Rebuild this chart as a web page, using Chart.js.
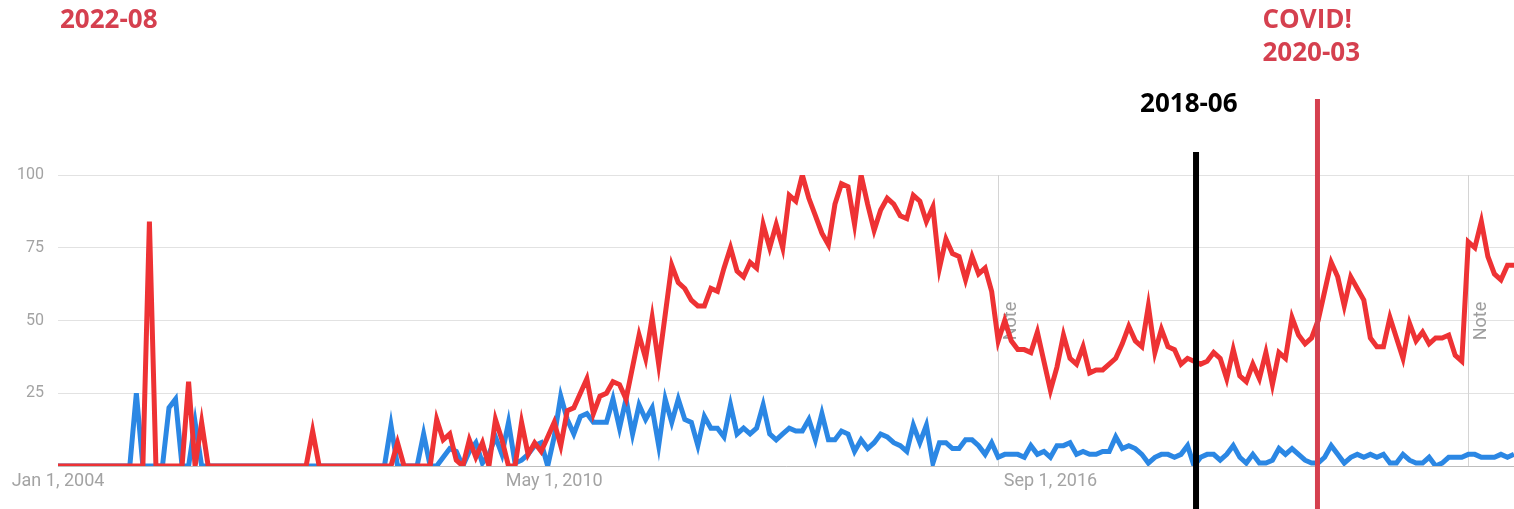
<!DOCTYPE html>
<html>
<head>
<meta charset="utf-8">
<script src="https://cdn.jsdelivr.net/npm/chart.js@4.4.1/dist/chart.umd.min.js"></script>
<style>
  html, body { margin: 0; padding: 0; background: #fff; }
  #wrap { width: 1514px; height: 509px; }
</style>
</head>
<body>
<div id="wrap"><canvas id="trendChart" width="1514" height="509"></canvas></div>
<script>
// monthly categories, Jan 2004 .. Aug 2022
const months = [];
for (let y = 2004; y <= 2022; y++) {
    for (let m = 1; m <= 12; m++) {
        if (y === 2022 && m > 8) break;
        months.push(y + '-' + String(m).padStart(2, '0'));
    }
}

// red term (one row per year)
const redSeries = [
    0, 0, 0, 0, 0, 0, 0, 0, 0, 0, 0, 0,
    0, 0, 84, 0, 0, 0, 0, 0, 29, 0, 15, 0,
    0, 0, 0, 0, 0, 0, 0, 0, 0, 0, 0, 0,
    0, 0, 0, 12, 0, 0, 0, 0, 0, 0, 0, 0,
    0, 0, 0, 0, 8, 0, 0, 0, 0, 0, 16, 9,
    11, 2, 0, 9, 3, 8, 0, 16, 9, 0, 0, 15,
    4, 8, 5, 10, 15, 7, 19, 20, 25, 30, 18, 24,
    25, 29, 28, 23, 34, 45, 37, 51, 35, 52, 69, 63,
    61, 57, 55, 55, 61, 60, 68, 75, 67, 65, 70, 68,
    83, 75, 83, 75, 93, 91, 100, 92, 86, 80, 76, 90,
    97, 96, 83, 100, 90, 81, 88, 92, 90, 86, 85, 93,
    91, 84, 89, 68, 78, 73, 72, 64, 72, 66, 68, 60,
    43, 50, 43, 40, 40, 39, 46, 36, 26, 34, 45, 37,
    35, 41, 32, 33, 33, 35, 37, 42, 48, 43, 41, 55,
    39, 47, 41, 40, 35, 37, 36, 35, 36, 39, 37, 30,
    40, 31, 29, 35, 30, 39, 28, 39, 37, 51, 45, 42,
    44, 50, 60, 70, 65, 55, 65, 61, 57, 44, 41, 41,
    51, 44, 37, 49, 43, 46, 42, 44, 44, 45, 38, 36,
    77, 75, 84, 72, 66, 64, 69, 69
];

// blue term
const blueSeries = [
    0, 0, 0, 0, 0, 0, 0, 0, 0, 0, 0, 0,
    25, 0, 0, 0, 0, 20, 23, 0, 0, 15, 0, 0,
    0, 0, 0, 0, 0, 0, 0, 0, 0, 0, 0, 0,
    0, 0, 0, 0, 0, 0, 0, 0, 0, 0, 0, 0,
    0, 0, 0, 14, 0, 0, 0, 0, 11, 0, 0, 3,
    6, 5, 0, 5, 8, 1, 4, 10, 4, 15, 1, 2,
    4, 7, 8, 0, 10, 24, 16, 11, 17, 18, 15, 15,
    15, 23, 13, 23, 11, 21, 16, 20, 7, 23, 15, 23,
    16, 15, 7, 17, 13, 13, 10, 21, 11, 13, 11, 13,
    21, 11, 9, 11, 13, 12, 12, 16, 9, 18, 9, 9,
    12, 11, 5, 9, 6, 8, 11, 10, 8, 7, 5, 14,
    8, 14, 1, 8, 8, 6, 6, 9, 9, 7, 4, 8,
    3, 4, 4, 4, 3, 7, 4, 5, 3, 7, 7, 8,
    4, 5, 4, 4, 5, 5, 10, 6, 7, 6, 4, 1,
    3, 4, 4, 3, 4, 7, 0, 3, 4, 4, 2, 4,
    7, 3, 1, 4, 1, 1, 2, 6, 4, 6, 4, 2,
    1, 1, 3, 7, 4, 1, 3, 4, 3, 4, 3, 4,
    1, 1, 4, 2, 1, 1, 3, 0, 1, 3, 3, 3,
    4, 4, 3, 3, 3, 4, 3, 4
];

const tickMonths = ['2004-01', '2010-05', '2016-09'];
const tickLabels = ['Jan 1, 2004', 'May 1, 2010', 'Sep 1, 2016'];
const yTicks = [25, 50, 75, 100];

// "Note" lines (data collection changes)
const noteMonths = ['2016-01', '2022-01'];

// hand drawn markers: text lines and where the bar sits on the month axis
const markerText = [['2018-06'], ['COVID!', '2020-03']];
const markerAt = [174.3, 192.9];
const cornerText = '2022-08';

const annotRed = '#d5404f';

const notesPlugin = {
    id: 'notes',
    beforeDatasetsDraw(chart) {
        const { ctx, chartArea, scales } = chart;
        noteMonths.forEach(m => {
            const px = Math.round(scales.x.getPixelForValue(months.indexOf(m))) + 0.5;
            ctx.save();
            ctx.strokeStyle = '#d4d4d4';
            ctx.lineWidth = 1;
            ctx.beginPath();
            ctx.moveTo(px, chartArea.top);
            ctx.lineTo(px, chartArea.bottom);
            ctx.stroke();
            ctx.translate(px + 13, 321);
            ctx.rotate(-Math.PI / 2);
            ctx.fillStyle = '#9e9e9e';
            ctx.font = '18px Roboto';
            ctx.textAlign = 'center';
            ctx.textBaseline = 'middle';
            ctx.fillText('Note', 0, 0);
            ctx.restore();
        });
    }
};

const markerPlugin = {
    id: 'markers',
    afterDraw(chart) {
        const { ctx, scales } = chart;
        const h = chart.height;
        ctx.save();
        ctx.font = 'bold 26px "Open Sans"';
        ctx.textBaseline = 'alphabetic';
        ctx.textAlign = 'left';

        // 2018-06 (black)
        let px = scales.x.getPixelForValue(markerAt[0]);
        ctx.fillStyle = '#000';
        ctx.fillRect(px - 3, 152, 6, h - 152);
        ctx.fillText(markerText[0][0], px - 56, 112);

        // COVID! 2020-03 (red)
        px = scales.x.getPixelForValue(markerAt[1]);
        ctx.fillStyle = annotRed;
        ctx.fillRect(px - 2.5, 99, 5, h - 99);
        ctx.fillText(markerText[1][0], px - 55, 28);
        ctx.fillText(markerText[1][1], px - 55, 61);

        ctx.fillText(cornerText, 60, 28);
        ctx.restore();
    }
};

const ctx = document.getElementById('trendChart').getContext('2d');
new Chart(ctx, {
    type: 'line',
    data: {
        labels: months,
        datasets: [
            {
                label: 'red',
                data: redSeries,
                borderColor: '#ee3234',
                borderWidth: 5,
                pointRadius: 0,
                tension: 0,
                fill: false
            },
            {
                label: 'blue',
                data: blueSeries,
                borderColor: '#2b87e4',
                borderWidth: 5,
                pointRadius: 0,
                tension: 0,
                fill: false
            }
        ]
    },
    options: {
        responsive: false,
        animation: false,
        devicePixelRatio: 1,
        layout: { padding: { top: 175, right: 0, left: 0, bottom: 0 } },
        plugins: {
            legend: { display: false },
            tooltip: { enabled: false }
        },
        scales: {
            x: {
                type: 'category',
                grid: { display: false, drawTicks: false },
                border: { display: true, color: '#bdbdbd', width: 1 },
                afterFit(scale) { scale.height = 43; },
                ticks: {
                    autoSkip: false,
                    maxRotation: 0,
                    padding: 5,
                    color: '#a3a3a3',
                    font: { family: 'Roboto', size: 18 },
                    callback(value, index) {
                        const k = tickMonths.indexOf(months[index]);
                        return k >= 0 ? tickLabels[k] : null;
                    }
                }
            },
            y: {
                min: 0,
                max: 100,
                afterFit(scale) { scale.width = 58; },
                afterBuildTicks(scale) { scale.ticks = [0].concat(yTicks).map(v => ({ value: v })); },
                grid: { color: '#e2e2e2', drawTicks: false, lineWidth: 1 },
                border: { display: false },
                ticks: {
                    padding: 14,
                    color: '#a3a3a3',
                    font: { family: 'Roboto', size: 16 },
                    callback(value) { return value === 0 ? '' : value; }
                }
            }
        }
    },
    plugins: [notesPlugin, markerPlugin]
});
</script>
</body>
</html>
